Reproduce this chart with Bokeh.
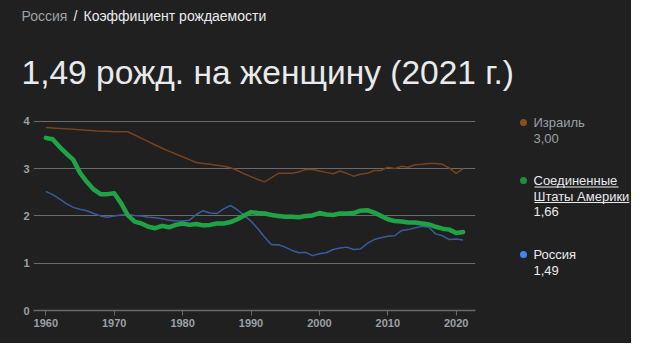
from bokeh.plotting import figure
from bokeh.models import FixedTicker, Range1d, ColumnDataSource
from bokeh.layouts import column, row
from bokeh.core.properties import value
from bokeh.embed import file_html
from bokeh.resources import INLINE

years = list(range(1960, 2022))

israel = [3.87, 3.86, 3.85, 3.84, 3.83, 3.82, 3.81, 3.80, 3.79, 3.79,
          3.78, 3.78, 3.78, 3.71, 3.64, 3.57, 3.50, 3.43, 3.37, 3.31,
          3.25, 3.19, 3.13, 3.11, 3.09, 3.07, 3.05, 3.02, 2.96, 2.89,
          2.83, 2.77, 2.72, 2.81, 2.90, 2.90, 2.90, 2.93, 2.98, 2.98,
          2.95, 2.92, 2.89, 2.95, 2.90, 2.84, 2.88, 2.90, 2.96, 2.96,
          3.03, 3.00, 3.05, 3.03, 3.08, 3.09, 3.11, 3.11, 3.09, 3.01,
          2.90, 3.00]

usa = [3.65, 3.62, 3.46, 3.32, 3.19, 2.91, 2.72, 2.56, 2.46, 2.46,
       2.48, 2.27, 2.01, 1.88, 1.84, 1.77, 1.74, 1.79, 1.76, 1.81,
       1.84, 1.81, 1.83, 1.80, 1.81, 1.84, 1.84, 1.87, 1.93, 2.01,
       2.08, 2.06, 2.05, 2.02, 2.00, 1.98, 1.98, 1.97, 2.00, 2.01,
       2.06, 2.03, 2.02, 2.05, 2.05, 2.06, 2.11, 2.12, 2.07, 2.00,
       1.93, 1.89, 1.88, 1.86, 1.86, 1.84, 1.82, 1.77, 1.73, 1.71,
       1.64, 1.66]

russia = [2.52, 2.45, 2.36, 2.26, 2.18, 2.14, 2.11, 2.05, 2.00, 1.97,
          2.00, 2.02, 2.03, 2.01, 2.00, 1.97, 1.96, 1.94, 1.91, 1.89,
          1.89, 1.91, 2.03, 2.11, 2.06, 2.05, 2.15, 2.22, 2.13, 2.01,
          1.89, 1.73, 1.55, 1.39, 1.39, 1.34, 1.27, 1.22, 1.23, 1.16,
          1.20, 1.22, 1.29, 1.32, 1.34, 1.29, 1.30, 1.42, 1.50, 1.54,
          1.57, 1.58, 1.69, 1.71, 1.75, 1.78, 1.76, 1.62, 1.58, 1.50,
          1.51, 1.49]

x_ticks = [1960, 1970, 1980, 1990, 2000, 2010, 2020]
y_ticks = [0, 1, 2, 3, 4]

legend_names = ["Израиль", "Соединенные\nШтаты Америки", "Россия"]
legend_values = ["3,00", "1,66", "1,49"]

BG = "#202020"
GRID = "#6a6a6a"
TXT = "#e8eaed"
MUTED = "#9aa0a6"
FONT = "Liberation Sans"

W, H = 631, 343
HEAD_H = 100
MAIN_W = 490
B_TOP, B_BOT = 16, 33   # borders of the chart row (frame spans y 116..310)


def blank(w, h, xr, yr, top=0, bottom=0):
    f = figure(width=w, height=h, output_backend="svg", toolbar_location=None,
               x_range=Range1d(*xr), y_range=Range1d(*yr),
               min_border_left=0, min_border_right=0,
               min_border_top=top, min_border_bottom=bottom,
               background_fill_color=BG, border_fill_color=BG,
               outline_line_color=None)
    f.axis.visible = False
    f.grid.visible = False
    return f


def texts(f, xs, ys, txts, colors, size):
    src = ColumnDataSource(dict(x=xs, y=ys, t=txts, c=colors))
    f.text(x="x", y="y", text="t", text_color="c", source=src,
           text_font=value(FONT), text_font_size=size,
           text_baseline="middle", text_align="left")


# ---- header (page coordinates, y downward) ----
head = blank(W, HEAD_H, (0, W), (HEAD_H, 0))
texts(head, [21, 73, 83], [15, 15, 15],
      ["Россия", "/", "Коэффициент рождаемости"], [MUTED, TXT, TXT], "14px")
texts(head, [21], [71.5], ["1,49 рожд. на женщину (2021 г.)"], [TXT], "33.5px")

# ---- main chart ----
FH = H - HEAD_H - B_TOP - B_BOT
PX_PER_YEAR = 6.84
x0 = 1958.2
p = figure(width=MAIN_W, height=H - HEAD_H, output_backend="svg", toolbar_location=None,
           x_range=Range1d(x0, x0 + 442 / PX_PER_YEAR),
           y_range=Range1d(0, FH / 47.3),
           min_border_left=33, min_border_right=15,
           min_border_top=B_TOP, min_border_bottom=B_BOT,
           background_fill_color=BG, border_fill_color=BG)
p.outline_line_color = None

p.line(years, israel, line_color="#76431a", line_width=1.5)
p.line(years, russia, line_color="#3a5b9c", line_width=1.5)
p.line(years, usa, line_color="#1fa346", line_width=4.5, line_join="round", line_cap="round")

p.xgrid.grid_line_color = None
p.ygrid.grid_line_color = GRID
p.ygrid.grid_line_width = 1
p.ygrid.ticker = FixedTicker(ticks=y_ticks)

p.yaxis.ticker = FixedTicker(ticks=y_ticks)
p.yaxis.axis_line_color = None
p.yaxis.major_tick_line_color = None
p.yaxis.major_tick_out = 0
p.yaxis.major_tick_in = 0
p.yaxis.minor_tick_line_color = None
p.yaxis.major_label_standoff = 4
p.yaxis.major_label_text_color = MUTED
p.yaxis.major_label_text_font = FONT
p.yaxis.major_label_text_font_size = "11px"
p.yaxis.major_label_text_font_style = "bold"

p.xaxis.ticker = FixedTicker(ticks=x_ticks)
p.xaxis.axis_line_color = GRID
p.xaxis.axis_line_width = 1.5
p.xaxis.major_tick_line_color = GRID
p.xaxis.major_tick_out = 5
p.xaxis.major_tick_in = 0
p.xaxis.minor_tick_line_color = None
p.xaxis.major_label_standoff = 3
p.xaxis.major_label_text_color = MUTED
p.xaxis.major_label_text_font = FONT
p.xaxis.major_label_text_font_size = "11px"
p.xaxis.major_label_text_font_style = "bold"

# ---- legend (page coordinates, y downward; frame spans page y 116..310) ----
leg = blank(W - MAIN_W, H - HEAD_H, (MAIN_W, W),
            (HEAD_H + H - HEAD_H - B_BOT, HEAD_H + B_TOP), top=B_TOP, bottom=B_BOT)
dot_colors = ["#8b4f1a", "#1e8e3e", "#4285f4"]
name_colors = [MUTED, TXT, TXT]
dot_y = [122, 180, 254]
tx, ty, tt, tc = [], [], [], []
for i, (nm, val) in enumerate(zip(legend_names, legend_values)):
    lines = nm.split("\n")
    y = dot_y[i]
    for j, ln in enumerate(lines):
        tx.append(533); ty.append(y + j * 15.5); tt.append(ln); tc.append(name_colors[i])
    tx.append(533); ty.append(y + len(lines) * 15.5); tt.append(val); tc.append(name_colors[i])
leg.scatter([523] * 3, dot_y, size=7, color=dot_colors, line_color=None)
texts(leg, tx, ty, tt, tc, "13px")
leg.segment(x0=[534, 534], y0=[186.5, 202], x1=[618, 629], y1=[186.5, 202],
            line_color=TXT, line_width=1)

layout = column(head, row(p, leg, spacing=0), spacing=0)
layout.styles = {"background-color": BG}
open("out.html", "w").write(file_html(layout, INLINE))
